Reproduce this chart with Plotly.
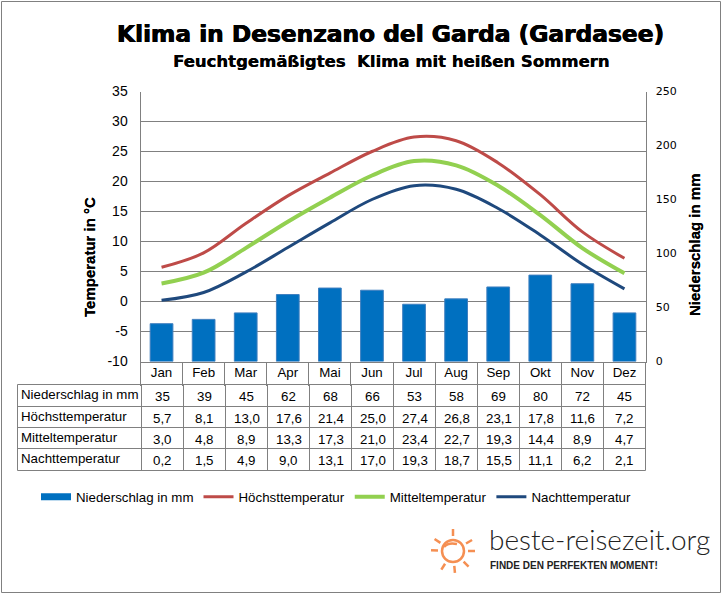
import math
import plotly.graph_objects as go

months = ['Jan', 'Feb', 'Mar', 'Apr', 'Mai', 'Jun', 'Jul', 'Aug', 'Sep', 'Okt', 'Nov', 'Dez']
niederschlag = [35, 39, 45, 62, 68, 66, 53, 58, 69, 80, 72, 45]
hoechst = [5.7, 8.1, 13.0, 17.6, 21.4, 25.0, 27.4, 26.8, 23.1, 17.8, 11.6, 7.2]
mittel = [3.0, 4.8, 8.9, 13.3, 17.3, 21.0, 23.4, 22.7, 19.3, 14.4, 8.9, 4.7]
nacht = [0.2, 1.5, 4.9, 9.0, 13.1, 17.0, 19.3, 18.7, 15.5, 11.1, 6.2, 2.1]

temp_ticks = [-10, -5, 0, 5, 10, 15, 20, 25, 30, 35]
rain_ticks = [0, 50, 100, 150, 200, 250]
sun_rays = [90, 30, 0, -45, -85, -122, 178, 147]

W, H = 722, 594
GRAY = '#808080'
TEXT = 'Liberation Sans'
SUN = '#F58F52'
PLOT_L, PLOT_R, PLOT_T, PLOT_B = 140.5, 645.5, 91.5, 361.5


# pixel positions of the page -> paper coordinates
def px(x):
    return x / W


def py(y):
    return 1 - y / H


def label(x, y, text, size=13.3, family=TEXT, color='black', anchor='center', bold=False, angle=0, shadow=None, weight=None):
    if bold:
        text = '<b>' + text + '</b>'
    font = dict(family=family, size=size, color=color)
    if shadow:
        font['shadow'] = shadow
    if weight:
        font['weight'] = weight
    fig.add_annotation(x=px(x), y=py(y), xref='paper', yref='paper', text=text, showarrow=False,
                       xanchor=anchor, yanchor='middle', textangle=angle, borderpad=0, font=font)


def line(x0, y0, x1, y1, color=GRAY, width=1):
    fig.add_shape(type='line', xref='paper', yref='paper', x0=px(x0), y0=py(y0), x1=px(x1), y1=py(y1),
                  line=dict(color=color, width=width))


def comma(v):
    return f'{v:.1f}'.replace('.', ',')


fig = go.Figure()
fig.add_trace(go.Bar(x=months, y=niederschlag, yaxis='y', width=0.54, showlegend=False,
                     marker=dict(color='#0070C0', line=dict(color='#3F7FBF', width=1))))
# legend entry for the bars, the wide flat swatch of the original
fig.add_trace(go.Scatter(x=[None], y=[None], name='Niederschlag in mm', yaxis='y', mode='lines',
                         line=dict(color='#0070C0', width=7)))
fig.add_trace(go.Scatter(x=months, y=hoechst, name='Höchsttemperatur', yaxis='y2', mode='lines',
                         line=dict(color='#BE4B48', width=3, shape='spline')))
fig.add_trace(go.Scatter(x=months, y=mittel, name='Mitteltemperatur', yaxis='y2', mode='lines',
                         line=dict(color='#92D050', width=4, shape='spline')))
fig.add_trace(go.Scatter(x=months, y=nacht, name='Nachttemperatur', yaxis='y2', mode='lines',
                         line=dict(color='#1F497D', width=3, shape='spline')))

fig.update_layout(
    width=W, height=H, margin=dict(l=0, r=0, t=0, b=0, autoexpand=False), autosize=False,
    paper_bgcolor='white', plot_bgcolor='white',
    xaxis=dict(domain=[px(PLOT_L), px(PLOT_R)], type='category', range=[-0.5, 11.5], tickson='boundaries',
               ticks='outside', ticklen=23, tickcolor=GRAY, tickwidth=1, ticklabelstandoff=-1,
               showline=True, linecolor=GRAY, showgrid=False, tickfont=dict(family=TEXT, size=13.3, color='black')),
    yaxis=dict(domain=[py(PLOT_B), py(PLOT_T)], side='right', range=[0, 250], tickvals=rain_ticks,
               showgrid=False, zeroline=False, showline=True, linecolor=GRAY, ticks='', ticklabelstandoff=7,
               tickfont=dict(family='DejaVu Sans', size=11, color='black')),
    yaxis2=dict(overlaying='y', side='left', range=[-10, 35], tickvals=temp_ticks,
                ticktext=[str(t) for t in temp_ticks], showgrid=True, gridcolor=GRAY, gridwidth=1,
                zeroline=False, showline=True, linecolor=GRAY, ticks='', ticklabelstandoff=9,
                tickfont=dict(family=TEXT, size=14, color='black')),
    legend=dict(orientation='h', x=px(36), y=py(497), xanchor='left', yanchor='middle', itemwidth=30,
                font=dict(family=TEXT, size=13.3, color='black'), bgcolor='rgba(0,0,0,0)'),
)

# titles
heavy = '0.5px 0 0 black, -0.4px 0 0 black'
label(390.5, 33, 'Klima in Desenzano del Garda (Gardasee)', size=23.3, family='DejaVu Sans', bold=True, shadow=heavy)
label(390.5, 62, 'Feuchtgemäßigtes  Klima mit heißen Sommern', size=16.5, family='DejaVu Sans', bold=True, shadow='0.3px 0 0 black')
label(89, 257, 'Temperatur in °C', size=15, bold=True, angle=-90, shadow='0 0.3px 0 black')
label(695, 245, 'Niederschlag in mm', size=15, bold=True, angle=-90, shadow='0 0.3px 0 black')

# table below the plot
rows = [
    ('Niederschlag in mm', [str(v) for v in niederschlag]),
    ('Höchsttemperatur', [comma(v) for v in hoechst]),
    ('Mitteltemperatur', [comma(v) for v in mittel]),
    ('Nachttemperatur', [comma(v) for v in nacht]),
]
row_y = [384.5, 406.5, 427.5, 448.5, 470.5]
col_x = [141.5 + 42 * i for i in range(13)]
for y in row_y:
    line(17.5, y, col_x[-1], y)
line(17.5, row_y[0], 17.5, row_y[-1])
for x in col_x:
    line(x, row_y[0], x, row_y[-1])
for r, (name, cells) in enumerate(rows):
    y = (row_y[r] + row_y[r + 1]) / 2
    label(20, y - 1, name, anchor='left')
    for c, cell in enumerate(cells):
        label((col_x[c] + col_x[c + 1]) / 2, y + 1, cell)

# logo
cx, cy = 453, 551
fig.add_shape(type='circle', xref='paper', yref='paper', x0=px(cx - 11), x1=px(cx + 11), y0=py(cy - 11), y1=py(cy + 11),
              line=dict(color=SUN, width=2.5))
for a in sun_rays:
    t = math.radians(a)
    line(cx + 15 * math.cos(t), cy - 15 * math.sin(t), cx + 22 * math.cos(t), cy - 22 * math.sin(t), color=SUN, width=2.5)
fig.add_shape(type='path', xref='paper', yref='paper', line=dict(color=SUN, width=2.5),
              path=f'M {px(cx - 9)} {py(cy - 4)} Q {px(cx - 5)} {py(cy - 9)} {px(cx + 4)} {py(cy - 7)}')
label(488, 539, 'beste-reisezeit.org', size=28, family='Lato', color='#222222', anchor='left', weight=300)
label(489, 565, '<b>FINDE DEN PERFEKTEN MOMENT!</b>', size=10, family=TEXT, color='#222222', anchor='left')

# outer frame
fig.add_shape(type='rect', xref='paper', yref='paper', x0=px(1.5), x1=px(720.5), y0=py(1.5), y1=py(592.5),
              line=dict(color=GRAY, width=1), layer='below')

fig.write_html("out.html", post_script="document.body.style.margin='0'", config={'displayModeBar': False})
